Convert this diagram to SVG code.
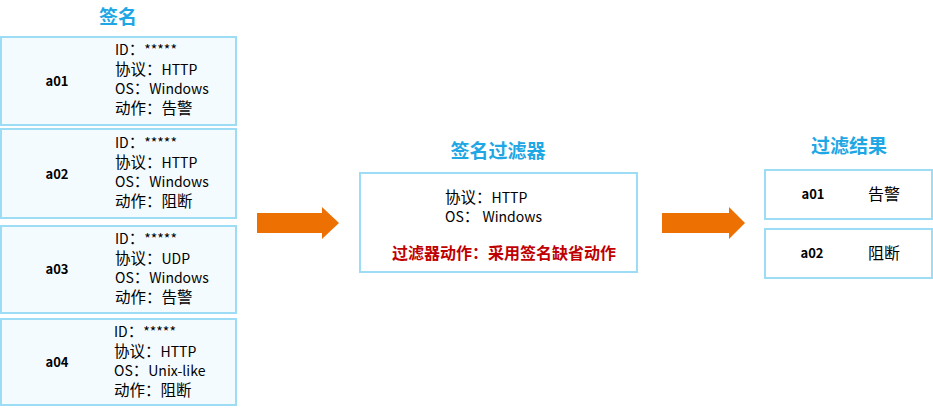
<svg xmlns="http://www.w3.org/2000/svg" width="933" height="411" viewBox="0 0 933 411">
  <style>
    text { font-family: "Noto Sans CJK SC", "Noto Sans", sans-serif; fill: #000; }
    .title { font-size: 19px; font-weight: bold; fill: #1ea7e4; text-anchor: middle; }
    .sig { fill: #f4fbfe; stroke: #9cdcf4; stroke-width: 2; }
    .res { fill: #ffffff; stroke: #9cdcf4; stroke-width: 2; }
    .key { font-size: 13px; font-weight: bold; text-anchor: middle; }
    .attr { font-size: 14px; }
    .cj { font-size: 15.5px; }
    .act { font-size: 16px; font-weight: bold; fill: #c00000; }
    .val { font-size: 16px; text-anchor: middle; }
    .arrow { fill: #ed7003; }
  </style>

  <text class="title" x="118" y="24">签名</text>
  <text class="title" x="498" y="158">签名过滤器</text>
  <text class="title" x="849" y="153">过滤结果</text>

  <g id="sig-a01">
    <rect class="sig" x="1" y="37" width="235" height="88"/>
    <text class="key" x="57" y="86">a01</text>
    <text class="attr" x="115" y="55">ID<tspan class="cj">：</tspan>*****<tspan x="115" dy="20"><tspan class="cj">协议：</tspan>HTTP</tspan><tspan x="115" dy="19">OS<tspan class="cj">：</tspan>Windows</tspan><tspan x="115" dy="20" class="cj">动作：告警</tspan></text>
  </g>
  <g id="sig-a02">
    <rect class="sig" x="1" y="129" width="235" height="89"/>
    <text class="key" x="57" y="179">a02</text>
    <text class="attr" x="115" y="148">ID<tspan class="cj">：</tspan>*****<tspan x="115" dy="20"><tspan class="cj">协议：</tspan>HTTP</tspan><tspan x="115" dy="19">OS<tspan class="cj">：</tspan>Windows</tspan><tspan x="115" dy="20" class="cj">动作：阻断</tspan></text>
  </g>
  <g id="sig-a03">
    <rect class="sig" x="1" y="226" width="235" height="87"/>
    <text class="key" x="57" y="274">a03</text>
    <text class="attr" x="115" y="244">ID<tspan class="cj">：</tspan>*****<tspan x="115" dy="20"><tspan class="cj">协议：</tspan>UDP</tspan><tspan x="115" dy="19">OS<tspan class="cj">：</tspan>Windows</tspan><tspan x="115" dy="20" class="cj">动作：告警</tspan></text>
  </g>
  <g id="sig-a04">
    <rect class="sig" x="1" y="319" width="235" height="86"/>
    <text class="key" x="57" y="367">a04</text>
    <text class="attr" x="114" y="337">ID<tspan class="cj">：</tspan>*****<tspan x="114" dy="20"><tspan class="cj">协议：</tspan>HTTP</tspan><tspan x="114" dy="19">OS<tspan class="cj">：</tspan>Unix-like</tspan><tspan x="114" dy="20" class="cj">动作：阻断</tspan></text>
  </g>

  <g id="filter">
    <rect class="res" x="360" y="173" width="277" height="99"/>
    <text class="attr" x="445" y="203"><tspan class="cj">协议：</tspan>HTTP<tspan x="445" dy="19">OS<tspan class="cj">：</tspan> Windows</tspan></text>
    <text class="act" x="392" y="259">过滤器动作：采用签名缺省动作</text>
  </g>

  <g id="res-a01">
    <rect class="res" x="765" y="170" width="167" height="49"/>
    <text class="key" x="813" y="199">a01</text>
    <text class="val" x="884" y="200">告警</text>
  </g>
  <g id="res-a02">
    <rect class="res" x="765" y="229" width="167" height="49"/>
    <text class="key" x="812" y="258">a02</text>
    <text class="val" x="884" y="259">阻断</text>
  </g>

  <g id="connectors">
    <polygon class="arrow" points="257,213 322,213 322,207 339,223 322,239 322,233 257,233"/>
    <polygon class="arrow" points="662,213 729,213 729,207 745,223 729,239 729,233 662,233"/>
  </g>
</svg>
